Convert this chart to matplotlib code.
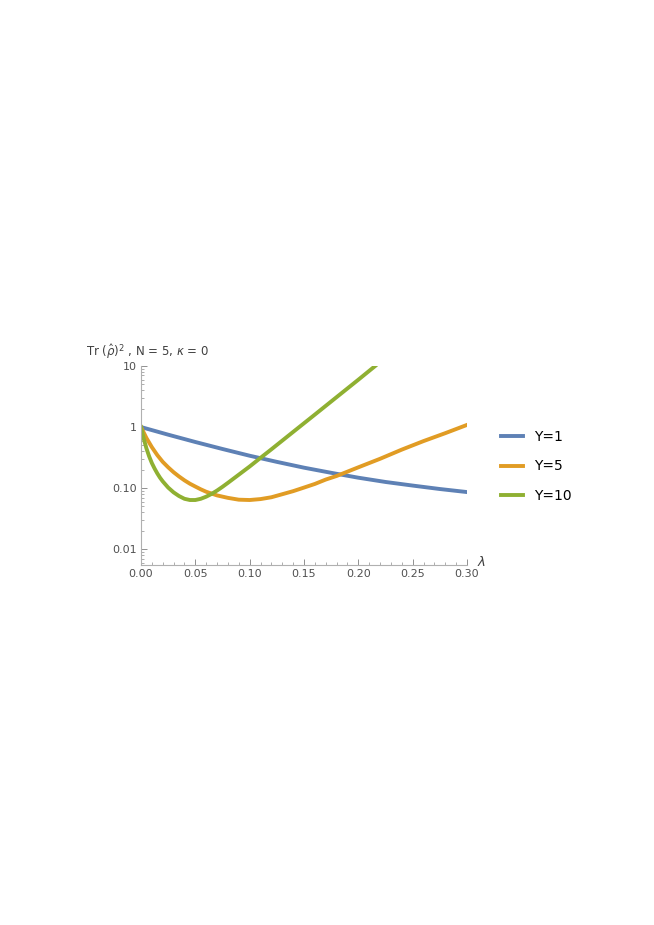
import numpy as np
import matplotlib.pyplot as plt
from matplotlib.ticker import MultipleLocator, FixedLocator, FixedFormatter, LogLocator, NullFormatter

# values (Tr rho^2 vs lambda)
lam_blue = [0, 0.025, 0.05, 0.075, 0.10, 0.125, 0.15, 0.175, 0.20, 0.225, 0.25, 0.275, 0.30]
tr_blue = [1, 0.750, 0.569, 0.437, 0.339, 0.269, 0.216, 0.178, 0.148, 0.126, 0.110, 0.0966, 0.0861]

lam_orange = [0, 0.005, 0.01, 0.015, 0.02, 0.025, 0.03, 0.035, 0.04, 0.045, 0.05, 0.055,
              0.06, 0.065, 0.07, 0.08, 0.09, 0.10, 0.11, 0.12, 0.13, 0.14, 0.15, 0.16,
              0.17, 0.18, 0.19, 0.20, 0.22, 0.24, 0.26, 0.28, 0.30]
tr_orange = [1, 0.661, 0.468, 0.347, 0.269, 0.219, 0.182, 0.155, 0.134, 0.118, 0.106, 0.0955,
             0.0871, 0.0813, 0.0759, 0.0692, 0.0646, 0.0638, 0.0661, 0.0708, 0.0794, 0.0891,
             0.102, 0.117, 0.138, 0.158, 0.186, 0.219, 0.302, 0.427, 0.589, 0.794, 1.084]

lam_green = [0, 0.0025, 0.005, 0.0075, 0.01, 0.0125, 0.015, 0.0175, 0.02, 0.025, 0.03, 0.035,
             0.04, 0.045, 0.05, 0.055, 0.06, 0.065, 0.07, 0.075, 0.08, 0.09, 0.10, 0.11,
             0.12, 0.14, 0.16, 0.18, 0.20, 0.2155]
tr_green = [1, 0.646, 0.447, 0.331, 0.257, 0.209, 0.174, 0.148, 0.129, 0.102, 0.0851, 0.0741,
            0.0668, 0.0638, 0.0638, 0.0668, 0.0724, 0.0804, 0.0912, 0.105, 0.122, 0.166,
            0.226, 0.313, 0.432, 0.832, 1.60, 3.09, 5.96, 10.0]

labels = ['Y=1', 'Y=5', 'Y=10']
colors = ['#5E81B5', '#E19C24', '#8FB032']

y_ticks = [0.01, 0.1, 1, 10]
y_ticklabels = ['0.01', '0.10', '1', '10']

fig = plt.figure(figsize=(6.54, 9.25), dpi=100)
ax = fig.add_axes([141 / 654, 1 - 565 / 925, 326 / 654, 199 / 925])

series = [(lam_blue, tr_blue), (lam_orange, tr_orange), (lam_green, tr_green)]
for (x, y), c, lab in zip(series, colors, labels):
    ax.plot(x, y, color=c, linewidth=2.8, label=lab, solid_joinstyle='round')

ax.set_yscale('log')
ax.set_xlim(0, 0.30)
ax.set_ylim(0.0055, 10)

ax.spines['top'].set_visible(False)
ax.spines['right'].set_visible(False)
for s in ['left', 'bottom']:
    ax.spines[s].set_color('#b0b0b0')
    ax.spines[s].set_linewidth(0.8)

ax.xaxis.set_major_locator(MultipleLocator(0.05))
ax.xaxis.set_minor_locator(MultipleLocator(0.01))
ax.xaxis.set_major_formatter(plt.FuncFormatter(lambda v, p: '%.2f' % v))
ax.yaxis.set_major_locator(FixedLocator(y_ticks))
ax.yaxis.set_major_formatter(FixedFormatter(y_ticklabels))
ax.yaxis.set_minor_locator(LogLocator(base=10, subs=np.arange(2, 10)))
ax.yaxis.set_minor_formatter(NullFormatter())

ax.tick_params(which='major', direction='in', length=4, width=0.7, color='#909090',
               labelsize=8, labelcolor='#505050', pad=3)
ax.tick_params(which='minor', direction='in', length=2, width=0.6, color='#a0a0a0')

ax.text(-0.17, 1.025, r'Tr $(\hat{\rho})^2$ , N = 5, $\kappa$ = 0', transform=ax.transAxes,
        fontsize=8.5, color='#404040', ha='left', va='bottom')
ax.text(1.03, 0.015, r'$\lambda$', transform=ax.transAxes, fontsize=9.5, color='#404040',
        ha='left', va='center')

ax.legend(loc='upper left', bbox_to_anchor=(1.065, 0.74), frameon=False, fontsize=10,
          handlelength=1.6, handletextpad=0.8, labelspacing=1.09)

plt.savefig('out.png', dpi=100)
